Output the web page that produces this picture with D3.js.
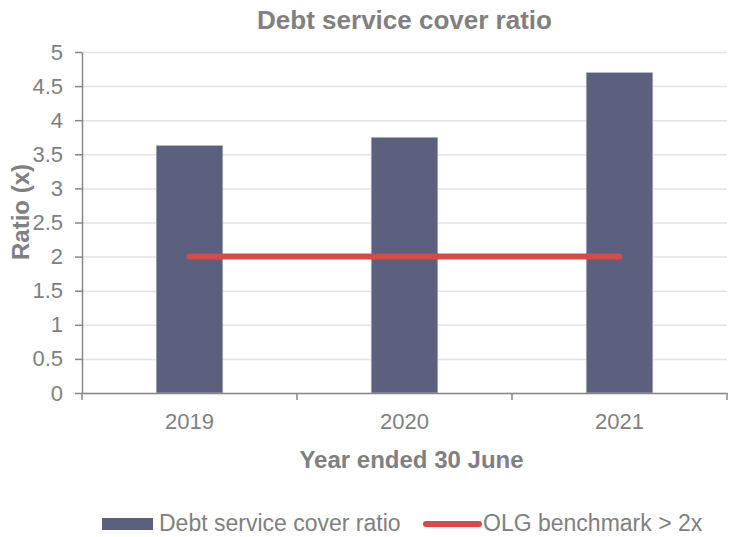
<!DOCTYPE html>
<html>
<head>
<meta charset="utf-8">
<script src="https://cdn.jsdelivr.net/npm/d3@7"></script>
<style>
  body { margin: 0; background: #fff; }
  svg { display: block; font-family: "Liberation Sans", Arial, sans-serif; }
  .axis text { fill: #808080; font-size: 22px; }
  .axis path, .axis line { stroke: #888; stroke-width: 1.5; }
  .grid line { stroke: #e3e3e3; stroke-width: 1.5; }
  .grid path { display: none; }
</style>
</head>
<body>
<svg width="730" height="537"></svg>
<script>
var years = ["2019", "2020", "2021"];
var ratios = [3.63, 3.75, 4.70];
var benchmark = [2, 2, 2];
var yTicks = [0, 0.5, 1, 1.5, 2, 2.5, 3, 3.5, 4, 4.5, 5];

var svg = d3.select("svg"),
  margin = { top: 52, right: 3, bottom: 144, left: 82 },
  width = svg.attr("width") - margin.left - margin.right,
  height = svg.attr("height") - margin.top - margin.bottom,
  g = svg.append("g").attr("transform", "translate(" + margin.left + "," + margin.top + ")");

var x = d3.scaleBand().domain(years).range([0, width]).paddingInner(0.69).paddingOuter(0.345),
  xb = d3.scaleBand().domain(years).range([0, width]),
  y = d3.scaleLinear().domain([0, 5]).range([height, 0]);

// gridlines
g.append("g")
  .attr("class", "grid")
  .call(d3.axisLeft(y).tickValues(yTicks).tickSize(-width).tickFormat(""));

// bars
g.selectAll(".bar")
  .data(years)
  .enter().append("rect")
  .attr("class", "bar")
  .attr("x", function(d) { return x(d); })
  .attr("width", x.bandwidth())
  .attr("y", function(d, i) { return y(ratios[i]); })
  .attr("height", function(d, i) { return height - y(ratios[i]); })
  .style("fill", "#5a607d")
  .style("stroke", "#c4c8d8")
  .style("stroke-width", 0.6);

// benchmark line
var line = d3.line()
  .x(function(d, i) { return xb(years[i]) + xb.bandwidth() / 2; })
  .y(function(d) { return y(d); });

g.append("path")
  .datum(benchmark)
  .attr("d", line)
  .style("fill", "none")
  .style("stroke", "#d84a45")
  .style("stroke-width", 6)
  .style("stroke-linecap", "round");

// axes
g.append("g")
  .attr("class", "axis axis--y")
  .call(d3.axisLeft(y).tickValues(yTicks).tickFormat(function(d) { return String(d); })
    .tickSize(7).tickSizeOuter(0).tickPadding(12));

var xAxis = g.append("g")
  .attr("class", "axis axis--x")
  .attr("transform", "translate(0," + height + ")")
  .call(d3.axisBottom(xb).tickSize(0).tickPadding(20));

// x ticks sit on category boundaries
xAxis.selectAll(".bound")
  .data(d3.range(years.length + 1))
  .enter().append("line")
  .attr("class", "bound")
  .attr("x1", function(i) { return i * xb.step(); })
  .attr("x2", function(i) { return i * xb.step(); })
  .attr("y1", 0)
  .attr("y2", 7);

// titles
svg.append("text")
  .attr("x", margin.left + width / 2)
  .attr("y", 29)
  .attr("text-anchor", "middle")
  .style("font-size", "26px")
  .style("font-weight", "bold")
  .style("fill", "#808080")
  .text("Debt service cover ratio");

svg.append("text")
  .attr("x", margin.left + width / 2 + 7)
  .attr("y", 468)
  .attr("text-anchor", "middle")
  .style("font-size", "24px")
  .style("font-weight", "bold")
  .style("fill", "#808080")
  .text("Year ended 30 June");

svg.append("text")
  .attr("transform", "translate(29,212) rotate(-90)")
  .attr("text-anchor", "middle")
  .style("font-size", "24px")
  .style("font-weight", "bold")
  .style("fill", "#808080")
  .text("Ratio (x)");

// legend
var legend = svg.append("g").attr("transform", "translate(0,524)");
legend.append("rect")
  .attr("x", 102).attr("y", -6)
  .attr("width", 51).attr("height", 12)
  .style("fill", "#5a607d");
legend.append("text")
  .attr("x", 159).attr("y", 7)
  .style("font-size", "23px")
  .style("fill", "#808080")
  .text("Debt service cover ratio");
legend.append("line")
  .attr("x1", 426).attr("x2", 479)
  .attr("y1", 0).attr("y2", 0)
  .style("stroke", "#d84a45")
  .style("stroke-width", 6)
  .style("stroke-linecap", "round");
legend.append("text")
  .attr("x", 483).attr("y", 7)
  .style("font-size", "23px")
  .style("fill", "#808080")
  .text("OLG benchmark > 2x");
</script>
</body>
</html>
